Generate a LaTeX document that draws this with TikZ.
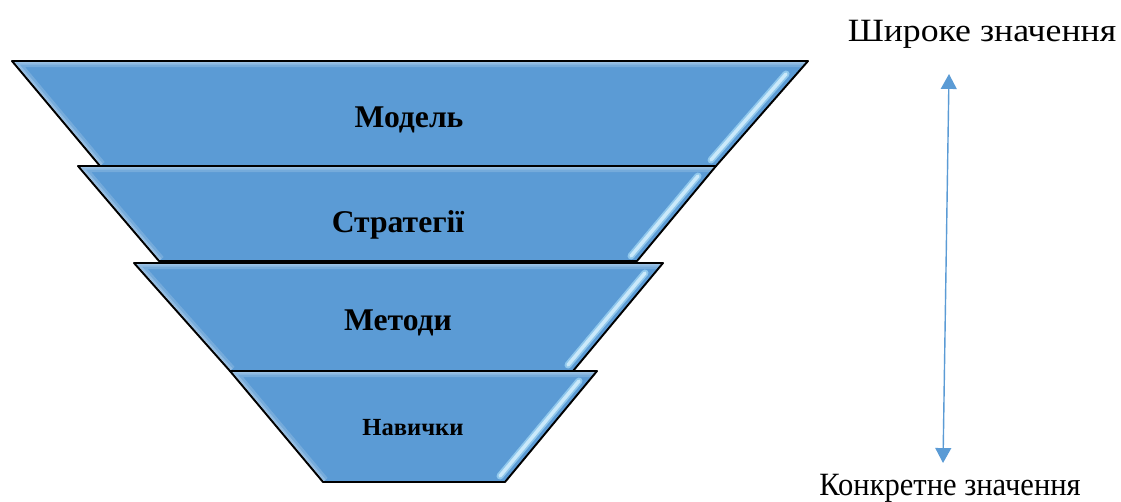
\documentclass[tikz,border=0pt]{standalone}
\usepackage{fontspec}
\setmainfont{Liberation Serif}
\usepackage{xcolor}
\usetikzlibrary{arrows.meta}
\definecolor{layerblue}{HTML}{5B9BD5}
\definecolor{shineblue}{HTML}{A6DAF6}
% one layer of the funnel: corners TL TR BR BL, then the two ends of the highlight
\newcommand{\funnellayer}[6]{%
  \begin{scope}
    \clip #1 -- #2 -- #3 -- #4 -- cycle;
    \fill[layer] #1 -- #2 -- #3 -- #4 -- cycle;
    \draw[glow,line width=7pt,opacity=.16] #4 -- #1 -- #2;
    \draw[glow,line width=4pt,opacity=.2] #4 -- #1 -- #2;
    \draw[glow,line width=1.6pt,opacity=.3] #4 -- #1 -- #2;
    \draw[shine,line width=4pt,color=shineblue,opacity=.7] #5 -- #6;
    \draw[shine,line width=2pt,color=shineblue!60!white] #5 -- #6;
  \end{scope}
  \draw[edge] #1 -- #2 -- #3 -- #4 -- cycle;}

\begin{document}
\begin{tikzpicture}[x=0.02cm,y=-0.02cm]
\tikzset{layer/.style={fill=layerblue}, edge/.style={draw=black,line width=1.1pt,line join=round}, glow/.style={draw=white}, shine/.style={line cap=round}, lbl/.style={font=\bfseries\fontsize{18}{20}\selectfont,anchor=base}, side/.style={font=\fontsize{18.5}{22}\selectfont,anchor=base,transform shape}, flow/.style={{Triangle[width=9pt,length=8.5pt]}-{Triangle[width=9pt,length=8.5pt]},line width=0.8pt,color=layerblue}}
\useasboundingbox (0,0) rectangle (1121,501);
\funnellayer{(12,61)}{(808,61)}{(716,166)}{(100,166)}{(786,74)}{(711,160)}
\funnellayer{(78,166)}{(716,166)}{(637,261)}{(159,261)}{(698,176)}{(631,256)}
\funnellayer{(134,263)}{(663,263)}{(573,371)}{(230,371)}{(645,273)}{(568,365)}
\funnellayer{(230,371)}{(597,371)}{(505,482)}{(323,482)}{(579,381)}{(500,476)}
\node[lbl] (model) at (409,127) {Модель};
\node[lbl] (strategies) at (398,232) {Стратегії};
\node[lbl] (methods) at (398,330) {Методи};
\node[lbl,font=\bfseries\fontsize{14}{16}\selectfont] (skills) at (413,435) {Навички};
\node[side,xscale=1.1] (wide) at (982,41.5) {Широке значення};
\node[side,xscale=0.94] (concrete) at (950,495) {Конкретне значення};
\coordinate (top) at (949,74);
\coordinate (bottom) at (943,463);
\draw[flow] (bottom) -- (top);
\end{tikzpicture}
\end{document}
